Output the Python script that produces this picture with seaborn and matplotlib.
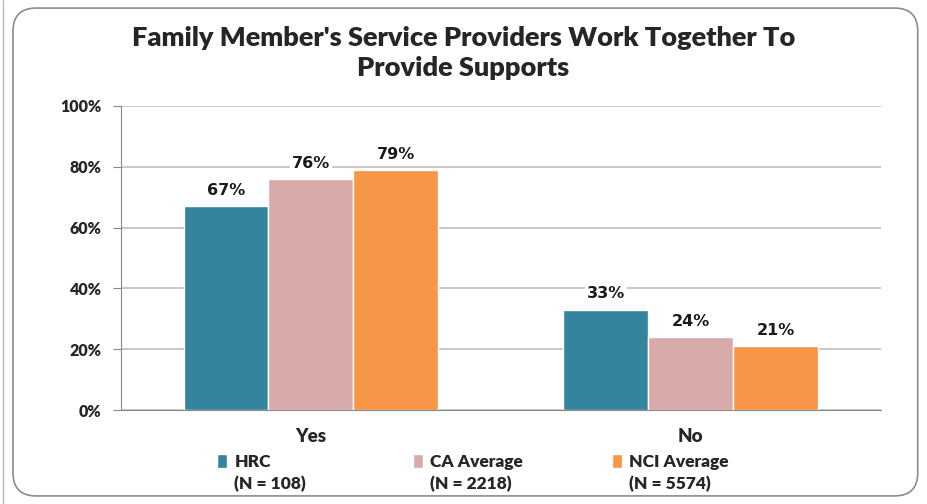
import numpy as np
import pandas as pd
import matplotlib.pyplot as plt
import seaborn as sns
from matplotlib.patches import FancyBboxPatch

# Chart data
answers = ["Yes", "No"]
groups = ["HRC", "CA Average", "NCI Average"]
group_n = ["(N = 108)", "(N = 2218)", "(N = 5574)"]
hrc = [67, 33]
ca_avg = [76, 24]
nci_avg = [79, 21]
colors = ["#33849C", "#D9AAAA", "#F79646"]

df = pd.DataFrame({
    "answer": answers * 3,
    "group": [g for g in groups for _ in answers],
    "pct": hrc + ca_avg + nci_avg,
})

sns.set_style("white")
plt.rcParams['font.family'] = ['Lato', 'DejaVu Sans']

fig = plt.figure(figsize=(9.27, 5.04), dpi=100)
ax = fig.add_axes([0.1305, 0.1865, 0.8195, 0.6032])

# rounded frame round the chart
frame = FancyBboxPatch((0.014, 0.016), 0.976, 0.968, boxstyle="round,pad=0,rounding_size=0.025",
                       transform=fig.transFigure, facecolor="none", edgecolor="#8C8C8C", linewidth=1.2,
                       mutation_aspect=927 / 504)
fig.patches.append(frame)
fig.add_artist(plt.Line2D([0.003, 0.003], [0, 1], transform=fig.transFigure, color="#BBBBBB", lw=1))

sns.barplot(data=df, x="answer", y="pct", hue="group", palette=colors, width=0.67,
            saturation=1, ax=ax, legend=True)

for cont in ax.containers:
    ax.bar_label(cont, labels=[f"{v:.0f}%" for v in cont.datavalues], padding=6,
                 fontsize=11.5, fontweight="bold", family="DejaVu Sans", color="#1a1a1a",
                 bbox=dict(facecolor="white", edgecolor="none", pad=1.5))

ax.set_ylim(0, 100)
ax.set_xlim(-0.5, 1.5)
ax.set_yticks(np.arange(0, 101, 20))
ax.set_yticklabels([f"{v}%" for v in range(0, 101, 20)], fontsize=11.5, fontweight="heavy")
ax.set_xticklabels(answers, fontsize=13.5, fontweight="heavy")
ax.set_xticks([-0.5, 0.5, 1.5], minor=True)
ax.tick_params(axis="x", which="major", length=0, pad=13)
ax.tick_params(axis="x", which="minor", length=6, color="#888888", direction="out")
ax.tick_params(axis="y", length=6, color="#888888", direction="out", left=True, pad=8)
ax.set_xlabel("")
ax.set_ylabel("")
ax.yaxis.grid(True, color="#BFBFBF", linewidth=1.2)
ax.set_axisbelow(True)
for side in ["top", "right"]:
    ax.spines[side].set_visible(False)
for side in ["left", "bottom"]:
    ax.spines[side].set_color("#888888")

fig.text(0.5, 0.895, "Family Member's Service Providers Work Together To\nProvide Supports",
         ha="center", va="center", fontsize=19.5, fontweight="heavy", linespacing=1.3)

# one legend entry per column, each with its N below
handles, labels = ax.get_legend_handles_labels()
ax.get_legend().remove()
leg_x = [0.234, 0.445, 0.66]
for h, lab, n, x in zip(handles, labels, group_n, leg_x):
    leg = fig.legend([h], [lab], loc="center left", bbox_to_anchor=(x, 0.083),
                     frameon=False, prop={"weight": "heavy", "size": 12.5},
                     borderpad=0, borderaxespad=0,
                     handlelength=0.6, handleheight=0.9, handletextpad=0.4)
    fig.canvas.draw()
    bb = leg.get_texts()[0].get_window_extent()
    fig.text(bb.x0 / fig.bbox.width, 0.04, n, ha="left", va="center",
             fontsize=12.5, fontweight="heavy")

fig.savefig("out.png", dpi=100)
